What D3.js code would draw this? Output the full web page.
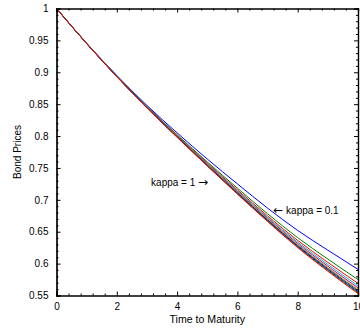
<!DOCTYPE html>
<html>
<head>
<meta charset="utf-8">
<script src="https://cdn.jsdelivr.net/npm/d3@7"></script>
<style>
  body { margin: 0; background: #fff; }
  svg { display: block; font-family: "Liberation Sans", Arial, sans-serif; }
</style>
</head>
<body>
<div id="chart"></div>
<script>
// Time to maturity (years)
const maturities = [0, 1, 2, 3, 4, 5, 6, 7, 8, 9, 10];

// Bond price curves, one per kappa (0.1 ... 1)
const kappas = [0.1, 0.2, 0.3, 0.4, 0.5, 0.6, 0.7, 0.8, 0.9, 1.0];
const priceK01 = [1, 0.9455, 0.895, 0.848, 0.805, 0.764, 0.725, 0.687, 0.652, 0.621, 0.591];
const priceK02 = [1, 0.9453, 0.8942, 0.8463, 0.8021, 0.7594, 0.7183, 0.6782, 0.6407, 0.6071, 0.575];
const priceK03 = [1, 0.9452, 0.8938, 0.8457, 0.8009, 0.7576, 0.7157, 0.6748, 0.6363, 0.6019, 0.569];
const priceK04 = [1, 0.9452, 0.8936, 0.8453, 0.8002, 0.7565, 0.7141, 0.6727, 0.6336, 0.5986, 0.5652];
const priceK05 = [1, 0.9451, 0.8935, 0.845, 0.7997, 0.7556, 0.7128, 0.671, 0.6315, 0.5959, 0.5621];
const priceK06 = [1, 0.9451, 0.8934, 0.8447, 0.7993, 0.755, 0.7119, 0.6698, 0.6299, 0.5939, 0.5598];
const priceK07 = [1, 0.9451, 0.8933, 0.8445, 0.7989, 0.7544, 0.7111, 0.6687, 0.6285, 0.5923, 0.5579];
const priceK08 = [1, 0.945, 0.8932, 0.8443, 0.7986, 0.7539, 0.7103, 0.6677, 0.6272, 0.5906, 0.556];
const priceK09 = [1, 0.945, 0.8931, 0.8442, 0.7983, 0.7534, 0.7096, 0.6668, 0.6261, 0.5893, 0.5545];
const priceK10 = [1, 0.945, 0.893, 0.844, 0.798, 0.753, 0.709, 0.666, 0.625, 0.588, 0.553];
const priceSeries = [priceK01, priceK02, priceK03, priceK04, priceK05,
                     priceK06, priceK07, priceK08, priceK09, priceK10];

// MATLAB-style colour order
const lineColors = ["#0000ff", "#008000", "#ff0000", "#00bfbf", "#bf00bf",
                    "#bfbf00", "#404040", "#0000ff", "#008000", "#ff0000"];

// Tick values
const xTicks = [0, 2, 4, 6, 8, 10];
const yTicks = [0.55, 0.6, 0.65, 0.7, 0.75, 0.8, 0.85, 0.9, 0.95, 1];

// Annotations [T, price, text, arrow, anchor]
const annotations = [
  [5.03, 0.721, "kappa = 1 ", "\u2192", "end"],
  [7.19, 0.678, " kappa = 0.1", "\u2190", "start"]
];

const width = 360, height = 329;
const box = { left: 56.5, right: 358, top: 8.5, bottom: 295.5 };

const svg = d3.select("#chart").append("svg")
  .attr("width", width)
  .attr("height", height)
  .style("background-color", "#fff");

const xScale = d3.scaleLinear().domain([0, 10]).range([box.left, box.right]);
const yScale = d3.scaleLinear().domain([0.55, 1]).range([box.bottom, box.top]);

// Curves
const line = d3.line()
  .x((d, i) => xScale(maturities[i]))
  .y(d => yScale(d))
  .curve(d3.curveMonotoneX);

svg.append("clipPath").attr("id", "clip")
  .append("rect")
  .attr("x", box.left).attr("y", box.top)
  .attr("width", box.right - box.left).attr("height", box.bottom - box.top);

svg.append("g").attr("clip-path", "url(#clip)")
  .selectAll(".curve")
  .data(priceSeries)
  .enter()
  .append("path")
  .attr("class", "curve")
  .attr("d", line)
  .attr("fill", "none")
  .attr("stroke", (d, i) => lineColors[i])
  .attr("stroke-width", 1);

// Minor ticks
const xMinor = d3.range(0, 10.001, 0.4).filter(v => Math.abs(v / 2 - Math.round(v / 2)) > 1e-6);
const yMinor = d3.range(0.55, 1.0001, 0.01).filter(v => Math.abs(v / 0.05 - Math.round(v / 0.05)) > 1e-6);

// Axes (ticks pointing inward, box all round)
svg.append("g")
  .attr("transform", `translate(0,${box.bottom})`)
  .call(d3.axisBottom(xScale).tickValues(xTicks).tickSize(-4).tickPadding(7).tickFormat(d3.format("d")));
svg.append("g")
  .attr("transform", `translate(0,${box.bottom})`)
  .call(d3.axisBottom(xScale).tickValues(xMinor).tickSize(-2).tickFormat(""));
svg.append("g")
  .attr("transform", `translate(0,${box.top})`)
  .call(d3.axisTop(xScale).tickValues(xTicks).tickSize(-4).tickFormat(""));
svg.append("g")
  .attr("transform", `translate(0,${box.top})`)
  .call(d3.axisTop(xScale).tickValues(xMinor).tickSize(-2).tickFormat(""));

svg.append("g")
  .attr("transform", `translate(${box.left},0)`)
  .call(d3.axisLeft(yScale).tickValues(yTicks).tickSize(-4).tickPadding(8).tickFormat(d => String(+d.toFixed(2))));
svg.append("g")
  .attr("transform", `translate(${box.left},0)`)
  .call(d3.axisLeft(yScale).tickValues(yMinor).tickSize(-2).tickFormat(""));
svg.append("g")
  .attr("transform", `translate(${box.right},0)`)
  .call(d3.axisRight(yScale).tickValues(yTicks).tickSize(-4).tickFormat(""));
svg.append("g")
  .attr("transform", `translate(${box.right},0)`)
  .call(d3.axisRight(yScale).tickValues(yMinor).tickSize(-2).tickFormat(""));

svg.selectAll(".domain").attr("stroke", "#000").attr("stroke-width", 1.2);
svg.selectAll(".tick line").attr("stroke", "#000");
svg.selectAll(".tick text")
  .attr("font-size", "10px")
  .attr("font-family", "'Liberation Sans', Arial, sans-serif")
  .attr("fill", "#000");

// Axis labels
svg.append("text")
  .attr("x", (box.left + box.right) / 2)
  .attr("y", 323)
  .attr("text-anchor", "middle")
  .attr("font-size", "10.6px")
  .text("Time to Maturity");

svg.append("text")
  .attr("transform", "rotate(-90)")
  .attr("x", -(box.top + box.bottom) / 2)
  .attr("y", 21)
  .attr("text-anchor", "middle")
  .attr("font-size", "10px")
  .text("Bond Prices");

// Annotations: label text plus a long thin arrow
const notes = svg.selectAll(".note")
  .data(annotations)
  .enter()
  .append("text")
  .attr("class", "note")
  .attr("x", d => xScale(d[0]))
  .attr("y", d => yScale(d[1]))
  .attr("text-anchor", d => d[4])
  .attr("font-size", "10px")
  .attr("fill", "#000");

notes.each(function(d) {
  const t = d3.select(this);
  const addArrow = () => t.append("tspan")
    .attr("font-family", "'DejaVu Sans', sans-serif")
    .attr("font-size", "12px")
    .text(d[3]);
  const addLabel = () => t.append("tspan").text(d[2]);
  if (d[4] === "end") { addLabel(); addArrow(); }
  else { addArrow(); addLabel(); }
});
</script>
</body>
</html>
